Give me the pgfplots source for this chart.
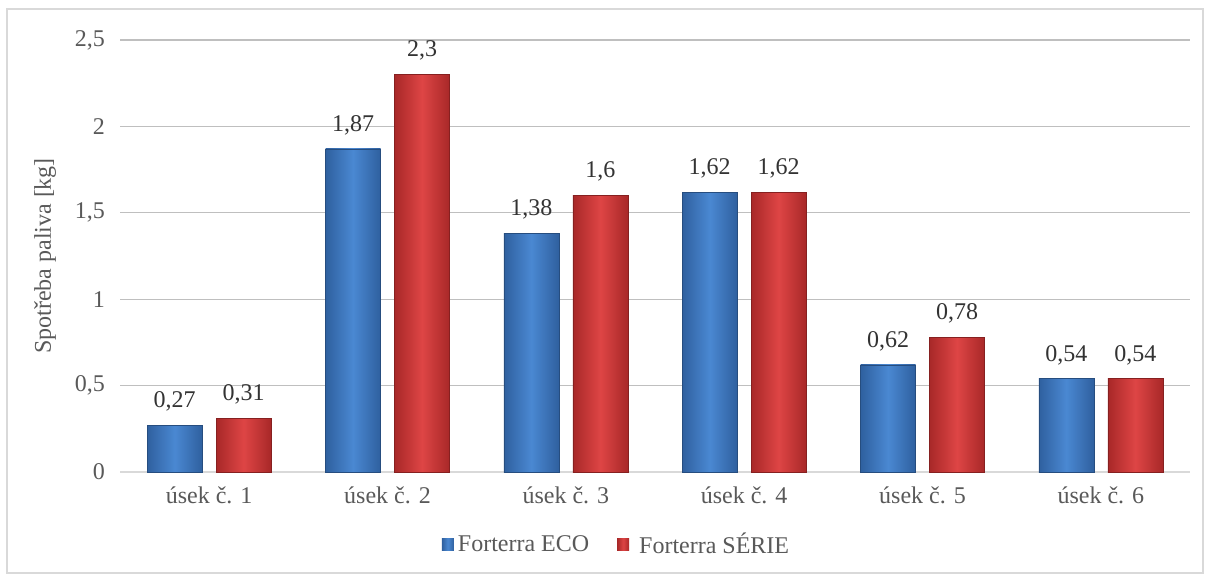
\documentclass[border=0pt]{standalone}
\usepackage{pgfplots}
\pgfplotsset{compat=1.18}
\usepackage{fontspec}
\setmainfont{Liberation Serif}
\definecolor{txt}{HTML}{595959}
\definecolor{grid}{HTML}{D9D9D9}
\definecolor{bmid}{HTML}{4A88D2}
\definecolor{bedge}{HTML}{2F609F}
\definecolor{rmid}{HTML}{DE4545}
\definecolor{redge}{HTML}{A82828}
\pgfplotsset{
  blueb/.style={ybar, bar width=27.5pt, bar shift=-17.25pt, forget plot, draw=bedge!80!black, line width=0.3pt,
    shading=axis, left color=bedge, right color=bedge, middle color=bmid,
    every node near coord/.append style={xshift=-17.25pt}},
  redb/.style={ybar, bar width=27.5pt, bar shift=17.25pt, forget plot, draw=redge!80!black, line width=0.3pt,
    shading=axis, left color=redge, right color=redge, middle color=rmid,
    every node near coord/.append style={xshift=17.25pt}},
}
\begin{document}
\begin{tikzpicture}
\useasboundingbox (0,0) rectangle (605pt,290pt);
\draw[grid, line width=0.6pt] (3.5pt,3.5pt) rectangle (601.5pt,285.5pt);
\begin{axis}[
  at={(60pt,54pt)}, anchor=south west,
  scale only axis, width=535pt, height=216pt,
  xmin=-0.5, xmax=5.5, ymin=0, ymax=2.5,
  xtick={0,1,2,3,4,5},
  xticklabels={úsek č. 1, úsek č. 2, úsek č. 3, úsek č. 4, úsek č. 5, úsek č. 6},
  ytick={0,0.5,1,1.5,2,2.5},
  /pgf/number format/use comma,
  /pgf/number format/assume math mode=true,
  ymajorgrids=true, xmajorgrids=false, grid style={grid, line width=0.6pt},
  axis lines*=left,
  x axis line style={grid, line width=0.8pt, -},
  y axis line style={draw=none},
  major tick length=0pt,
  tick label style={font=\fontsize{12}{14}\selectfont, text=txt},
  xticklabel style={yshift=-4pt},
  yticklabel style={xshift=-4pt},
  ylabel={Spotřeba paliva [kg]},
  ylabel style={font=\fontsize{12}{14}\selectfont, text=txt, at={(axis description cs:-0.0701,0.5)}, anchor=center},
  nodes near coords,
  nodes near coords style={font=\fontsize{12}{14}\selectfont, text=black!80, yshift=3.5pt},
  legend style={at={(axis description cs:0.465,-0.169)}, anchor=center, draw=none, legend columns=2,
    font=\fontsize{12}{14}\selectfont, text=txt,
    /tikz/every even column/.append style={column sep=12pt}},
  legend image code/.code={\draw[#1, draw=none] (0cm,-0.1cm) rectangle (0.21cm,0.11cm);},
]
\addlegendimage{draw=none, shading=axis, left color=bedge, right color=bedge, middle color=bmid}
\addlegendentry{Forterra ECO}
\addlegendimage{draw=none, shading=axis, left color=redge, right color=redge, middle color=rmid}
\addlegendentry{\hspace{3pt}Forterra SÉRIE}
\addplot[blueb] coordinates {(0,0.27)};
\addplot[blueb] coordinates {(1,1.87)};
\addplot[blueb] coordinates {(2,1.38)};
\addplot[blueb] coordinates {(3,1.62)};
\addplot[blueb] coordinates {(4,0.62)};
\addplot[blueb] coordinates {(5,0.54)};
\addplot[redb] coordinates {(0,0.31)};
\addplot[redb] coordinates {(1,2.3)};
\addplot[redb] coordinates {(2,1.6)};
\addplot[redb] coordinates {(3,1.62)};
\addplot[redb] coordinates {(4,0.78)};
\addplot[redb] coordinates {(5,0.54)};
\end{axis}
\end{tikzpicture}
\end{document}
